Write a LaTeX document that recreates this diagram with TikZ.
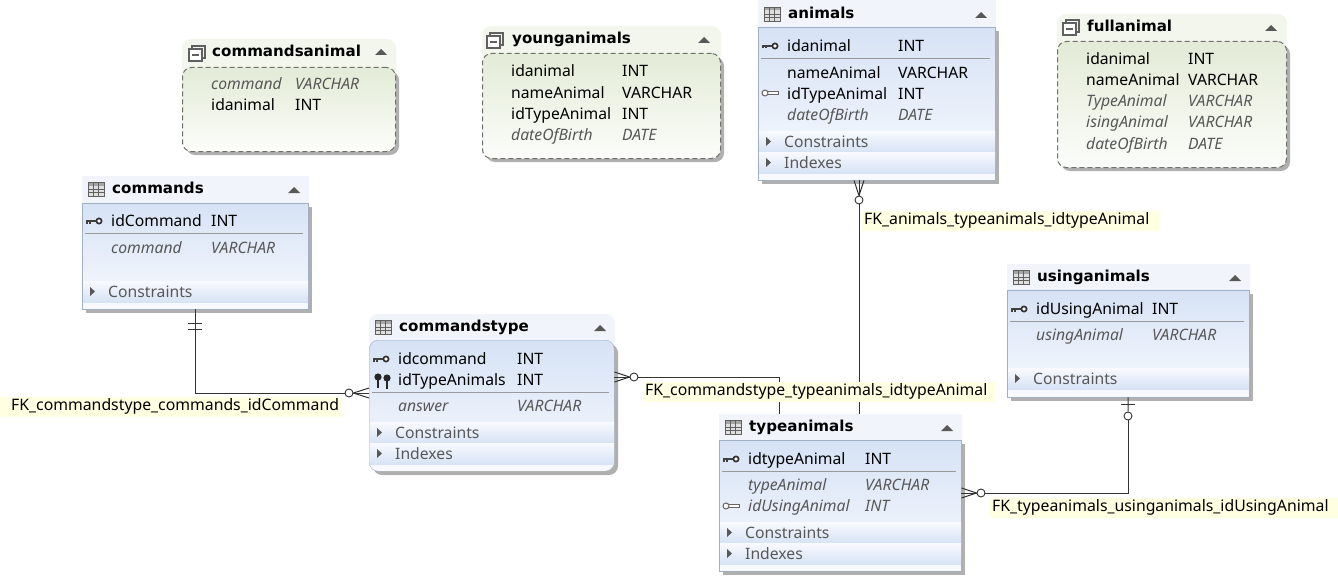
\documentclass[tikz,border=0pt]{standalone}
\usepackage{fontspec}
\setmainfont{Noto Sans}
\newfontfamily\titlefont{DejaVu Sans}
\usetikzlibrary{calc,positioning}
\definecolor{softtext}{RGB}{88,88,88}
\definecolor{tablehead}{RGB}{241,245,251}
\definecolor{tabletop}{RGB}{214,226,245}
\definecolor{tablebottom}{RGB}{248,250,254}
\definecolor{tableline}{RGB}{160,176,196}
\definecolor{viewhead}{RGB}{243,246,237}
\definecolor{viewtop}{RGB}{226,235,214}
\definecolor{viewbottom}{RGB}{252,253,250}
\definecolor{viewline}{RGB}{110,114,106}
\definecolor{fkyellow}{RGB}{255,255,225}
\definecolor{shadowgray}{RGB}{176,176,176}
\definecolor{iconcolor}{RGB}{96,96,96}
\newcommand{\plainrow}{\color{black}\upshape}
\newcommand{\softrow}{\color{softtext}\itshape}
\tikzset{
  tablebody/.style={draw=tableline, top color=tabletop, bottom color=tablebottom, anchor=north west, inner sep=0pt},
  viewbody/.style={draw=viewline, line width=1pt, dash pattern=on 5pt off 3pt, top color=viewtop, bottom color=viewbottom, anchor=north west, inner sep=0pt, rounded corners=9pt},
  softcorners/.style={rounded corners=9pt},
  titletext/.style={font=\titlefont\bfseries\fontsize{15.1}{15}\selectfont, anchor=west, inner sep=0pt, text height=13pt, text depth=2pt},
  rowtext/.style={font=\fontsize{15.7}{15}\selectfont, anchor=west, inner sep=0pt, text height=13pt, text depth=2pt},
  bandtext/.style={font=\fontsize{15.7}{15}\selectfont, text=softtext, anchor=west, inner sep=0pt, text height=13pt, text depth=2pt},
  sepline/.style={draw=gray!80, line width=0.8pt},
  fklabel/.style={fill=fkyellow, font=\fontsize{15.8}{15}\selectfont, anchor=west, align=left, inner xsep=2pt, inner ysep=0pt, minimum height=20pt, text height=11pt, text depth=4pt},
  rel/.style={draw=black!80, line width=1pt},
  zerodot/.style={circle, draw=black!80, fill=white, line width=0.9pt, minimum size=8pt, inner sep=0pt},
  x=1pt, y=-1pt
}

% name, style, head fill, corners, x1, x2, head top, body top, body bottom
\newcommand{\dbbox}[9]{
  \fill[#4,fill=#3] (#5,#7) rectangle (#6+1,#8+9);
  \fill[#4,fill=shadowgray] (#5+4,#8+4) rectangle (#6+4,#9+4);
  \pgfmathsetmacro{\boxw}{#6-#5}
  \pgfmathsetmacro{\boxh}{#9-#8}
  \node[#2, minimum width=\boxw pt, minimum height=\boxh pt] (#1) at (#5,#8) {};
}
% prefix, x1, x2, list of rows
\newcommand{\dbrows}[4]{
  \foreach \yy/\cn/\ct/\rf in {#4} {
    \node[rowtext, name=#1n\yy] at (#2,\yy) {\rf \cn};
    \node[rowtext, name=#1t\yy] at (#3,\yy) {\rf \ct};
  }
}
% name, x1, x2, y top, text
\newcommand{\dbband}[5]{
  \node[anchor=north west, inner sep=0pt, top color=tablebottom, bottom color=tabletop, minimum width=#3pt-#2pt-1pt, minimum height=21pt] (#1) at (#2+1,#4) {};
  \fill[softtext] (#2+8,#4+6) -- (#2+13,#4+10.5) -- (#2+8,#4+15) -- cycle;
  \node[bandtext] (#1t) at (#2+26,#4+10.5) {#5};
}
% x, y: grid of a table
\newcommand{\tableicon}[2]{
  \fill[gray!25] (#1-8,#2-7) rectangle (#1+8,#2+7);
  \fill[gray!70] (#1-8,#2-7) rectangle (#1+8,#2-3.5);
  \draw[iconcolor, line width=0.8pt] (#1-8,#2-7) rectangle (#1+8,#2+7);
  \foreach \gx in {-3,2} \draw[iconcolor, line width=0.7pt] (#1+\gx,#2-7) -- (#1+\gx,#2+7);
  \foreach \gy in {0,3.5} \draw[iconcolor, line width=0.7pt] (#1-8,#2+\gy) -- (#1+8,#2+\gy);
}
\newcommand{\viewicon}[2]{
  \draw[iconcolor, line width=1.2pt] (#1-5,#2-7) rectangle (#1+8,#2+5);
  \fill[white] (#1-8,#2-4) rectangle (#1+5,#2+8);
  \draw[iconcolor, line width=1.2pt] (#1-8,#2-4) rectangle (#1+5,#2+8);
  \draw[iconcolor, line width=1.2pt] (#1-5,#2+2) -- (#1+2,#2+2);
}
\newcommand{\pkey}[2]{
  \draw[black!75, line width=1.7pt] (#1-8,#2) -- (#1+3,#2);
  \draw[black!75, line width=1.2pt] (#1-7,#2) -- (#1-7,#2+2.5) (#1-4,#2) -- (#1-4,#2+2.5);
  \draw[black!80, line width=1.7pt, fill=white] (#1+5,#2) circle (2.6);
}
\newcommand{\fkey}[2]{
  \draw[black!60, line width=0.8pt, fill=white] (#1-3,#2-1.5) rectangle (#1+8,#2+1.5);
  \draw[black!60, line width=1pt, fill=white] (#1-5,#2) circle (3);
}
\newcommand{\vkey}[2]{
  \fill[black!85] (#1,#2-4) circle (3.6);
  \draw[black!85, line width=2.2pt] (#1,#2-3) -- (#1,#2+7);
}
\newcommand{\collapse}[2]{
  \fill[softtext] (#1-6,#2+3) -- (#1,#2-3) -- (#1+6,#2+3) -- cycle;
}

\begin{document}
\begin{tikzpicture}

\fill[white] (0,0) rectangle (1338,578);
\useasboundingbox (0,0) rectangle (1338,578);

% ---- Views ----
\dbbox{commandsanimal}{viewbody}{viewhead}{softcorners}{182}{395}{39}{67}{151}
\viewicon{197}{53}
\node[titletext] (commandsanimalTitle) at (212,51) {commandsanimal};
\collapse{381}{52}
\dbrows{ca}{211}{295}{84/command/VARCHAR/\softrow,105/idanimal/INT/\plainrow}

\dbbox{younganimals}{viewbody}{viewhead}{softcorners}{482}{720}{26}{53}{158}
\viewicon{495}{40}
\node[titletext] (younganimalsTitle) at (512,38) {younganimals};
\collapse{704}{40}
\dbrows{ya}{511}{622}{71/idanimal/INT/\plainrow,93/nameAnimal/VARCHAR/\plainrow,114/idTypeAnimal/INT/\plainrow,135/dateOfBirth/DATE/\softrow}

\dbbox{fullanimal}{viewbody}{viewhead}{softcorners}{1057}{1286}{14}{41}{167}
\viewicon{1071}{27}
\node[titletext] (fullanimalTitle) at (1087,26) {fullanimal};
\collapse{1271}{28}
\dbrows{fa}{1086}{1188}{59/idanimal/INT/\plainrow,80/nameAnimal/VARCHAR/\plainrow,101/TypeAnimal/VARCHAR/\softrow,122/isingAnimal/VARCHAR/\softrow,144/dateOfBirth/DATE/\softrow}

% ---- Tables ----
\dbbox{animals}{tablebody}{tablehead}{sharp corners}{758}{995}{0}{27}{180}
\tableicon{772}{14}
\node[titletext] (animalsTitle) at (788,13) {animals};
\collapse{981}{15}
\pkey{770}{46}
\dbrows{an}{787}{898}{46/idanimal/INT/\plainrow,73/nameAnimal/VARCHAR/\plainrow,94/idTypeAnimal/INT/\plainrow,115/dateOfBirth/DATE/\softrow}
\draw[sepline] (761,58) -- (990,58);
\fkey{770}{93}
\dbband{animalsC}{758}{995}{131}{Constraints}
\dbband{animalsI}{758}{995}{152}{Indexes}

\dbbox{commands}{tablebody}{tablehead}{sharp corners}{82}{308}{176}{203}{309}
\tableicon{96}{189}
\node[titletext] (commandsTitle) at (112,188) {commands};
\collapse{294}{190}
\pkey{94}{221}
\dbrows{co}{111}{211}{221/idCommand/INT/\plainrow,248/command/VARCHAR/\softrow}
\draw[sepline] (85,233) -- (303,233);
\dbband{commandsC}{82}{308}{281}{Constraints}

\dbbox{commandstype}{tablebody,softcorners}{tablehead}{softcorners}{369}{614}{314}{340}{471}
\tableicon{383}{327}
\node[titletext] (commandstypeTitle) at (399,326) {commandstype};
\collapse{600}{328}
\pkey{381}{359}
\vkey{378}{381}
\vkey{387}{382}
\dbrows{ct}{398}{517}{359/idcommand/INT/\plainrow,380/idTypeAnimals/INT/\plainrow,406/answer/VARCHAR/\softrow}
\draw[sepline] (372,392) -- (609,392);
\dbband{commandstypeC}{369}{614}{422}{Constraints}
\dbband{commandstypeI}{369}{614}{443}{Indexes}

\dbbox{usinganimals}{tablebody}{tablehead}{sharp corners}{1007}{1249}{264}{290}{397}
\tableicon{1021}{277}
\node[titletext] (usinganimalsTitle) at (1037,276) {usinganimals};
\collapse{1235}{278}
\pkey{1019}{309}
\dbrows{us}{1036}{1152}{309/idUsingAnimal/INT/\plainrow,335/usingAnimal/VARCHAR/\softrow}
\draw[sepline] (1010,321) -- (1244,321);
\dbband{usinganimalsC}{1007}{1249}{368}{Constraints}

\dbbox{typeanimals}{tablebody}{tablehead}{sharp corners}{719}{961}{414}{440}{571}
\tableicon{733}{427}
\node[titletext] (typeanimalsTitle) at (749,426) {typeanimals};
\collapse{947}{428}
\pkey{731}{459}
\dbrows{ty}{748}{865}{459/idtypeAnimal/INT/\plainrow,485/typeAnimal/VARCHAR/\softrow,506/idUsingAnimal/INT/\softrow}
\draw[sepline] (722,471) -- (956,471);
\fkey{731}{506}
\dbband{typeanimalsC}{719}{961}{522}{Constraints}
\dbband{typeanimalsI}{719}{961}{543}{Indexes}

% ---- Relations ----
\node[zerodot] (zeroCommands) at (349,393) {};
\node[zerodot] (zeroTypeLeft) at (634,377) {};
\node[zerodot] (zeroAnimals) at (859,200) {};
\node[zerodot] (zeroTypeRight) at (981,493) {};
\node[zerodot] (zeroUsing) at (1128,416) {};
\coordinate (typeTopA) at (779,414);
\coordinate (typeTopB) at (859,414);

\draw[rel] (commands.south) |- (zeroCommands.west);
\draw[rel] (zeroTypeLeft.east) -| (typeTopA);
\draw[rel] (zeroAnimals.south) -- (typeTopB);
\draw[rel] (zeroTypeRight.east) -| (zeroUsing.south);
\draw[rel] (zeroUsing.north) -- (usinganimals.south);

% one side
\foreach \t in {323,329} {
  \draw[rel] ($(commands.south)+(-7,\t-309)$) -- ($(commands.south)+(7,\t-309)$);
}
\draw[rel] ($(usinganimals.south)+(-7,7)$) -- ($(usinganimals.south)+(7,7)$);

% many side
\foreach \d in {-5,0,5} {
  \draw[rel] (zeroCommands.east) -- ($(commandstype.west |- zeroCommands)+(0,\d)$);
  \draw[rel] (zeroTypeLeft.west) -- ($(commandstype.east |- zeroTypeLeft)+(0,\d)$);
  \draw[rel] (zeroAnimals.north) -- ($(animals.south -| zeroAnimals)+(\d,0)$);
  \draw[rel] (zeroTypeRight.west) -- ($(typeanimals.east |- zeroTypeRight)+(0,\d)$);
}

% ---- Labels ----
\node[fklabel, text width=338pt] (fkCommands) at (0,407) {\hspace*{9pt}FK\_commandstype\_commands\_idCommand};
\node[fklabel, text width=348pt] (fkCommandstype) at (643,392) {FK\_commandstype\_typeanimals\_idtypeAnimal};
\node[fklabel, text width=294pt] (fkAnimals) at (862,221) {FK\_animals\_typeanimals\_idtypeAnimal};
\node[fklabel, text width=344pt] (fkTypeanimals) at (990,508) {FK\_typeanimals\_usinganimals\_idUsingAnimal};

\end{tikzpicture}
\end{document}
